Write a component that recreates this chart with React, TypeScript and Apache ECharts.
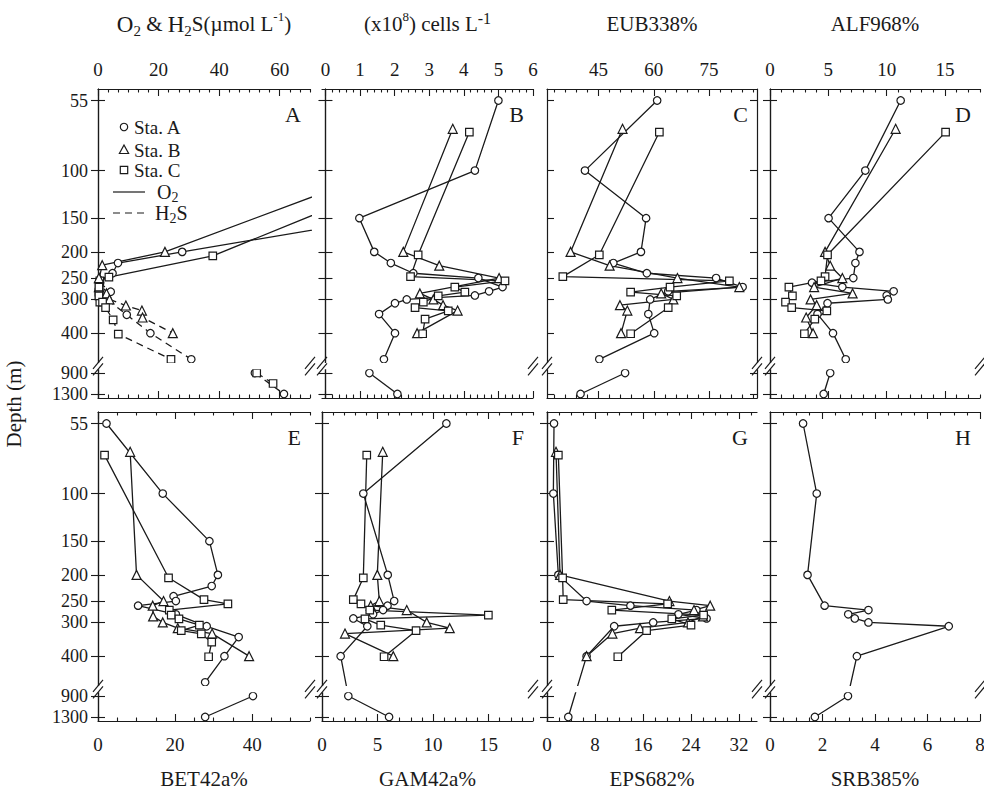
import React, { useEffect, useRef } from "react";
import * as echarts from "echarts";

const FONT = "'Liberation Serif', 'Times New Roman', serif";
const INK = "#1a1a1a";

// ---- depth axis ----
const depthTicks = [55, 100, 150, 200, 250, 300, 400, 900, 1300];

// ---- sampling depths (m) ----
const depthStaA = [55, 100, 150, 200, 220, 240, 250, 260, 270, 280, 290, 300, 310, 340, 400, 500, 900, 1300];
const depthStaB = [70, 200, 225, 250, 260, 270, 285, 300, 315, 330, 350, 400];
const depthStaC = [72, 205, 247, 256, 270, 282, 291, 307, 322, 331, 355, 402];

// ---- Panel A: O2 & H2S (umol/L) ----
const o2DepthA = [150, 200, 220, 240, 255];
const o2StaA = [94, 27.8, 6.6, 4.8, 0.5];
const o2DepthB = [100, 200, 224, 250, 270];
const o2StaB = [94, 22.1, 1.4, 0.4, 0.3];
const o2DepthC = [100, 207, 248, 256, 270, 282, 291, 307];
const o2StaC = [107, 37.9, 3.6, 0.6, 0.4, 0.3, 0.4, 0.6];
const h2sDepthA = [260, 281, 300, 342, 400, 500, 900, 1300];
const h2sStaA = [0.5, 4.2, 3.0, 9.5, 17.3, 30.8, 51.8, 61.4];
const h2sDepthB = [250, 285, 300, 316, 330, 350, 400];
const h2sStaB = [0.3, 2.8, 3.8, 9.2, 14.5, 14.7, 24.7];
const h2sDepthC = [270, 291, 307, 322, 357, 403, 500, 900, 1100];
const h2sStaC = [0.3, 0.3, 1.5, 2.5, 5.0, 6.7, 24.1, 52.4, 57.8];

// ---- Panel B: cells (x10^8 / L) ----
const cellsA = [5.0, 4.32, 0.98, 1.41, 1.89, 2.54, 4.42, null, 5.12, 4.73, 4.32, 2.35, 2.01, 1.55, 2.01, 1.69, 1.27, 2.08];
const cellsB = [3.68, 2.25, 3.29, 5.02, null, null, 2.73, 3.12, 3.40, 3.82, null, 2.65];
const cellsC = [4.16, 2.68, 2.46, 5.19, 3.74, 4.03, 3.26, 2.83, 2.59, 3.55, 2.88, 2.81];
// ---- Panel C: EUB338% ----
const eubA = [60.9, 41.3, 57.9, 56.5, 49.0, 58.1, 76.9, null, 84.1, 63.9, null, 59.0, null, 58.5, 60.1, 45.2, 52.2, 40.1];
const eubB = [51.5, 37.4, 48.0, 66.4, null, 83.2, 62.0, 65.3, 50.8, 52.8, null, 51.1];
const eubC = [61.5, 45.2, 35.3, 80.5, 64.4, 53.7, 66.2, null, 63.9, null, null, 53.7];
// ---- Panel D: ALF968% ----
const alfA = [11.2, 8.17, 5.02, 7.67, 7.32, null, 7.14, 3.6, 6.2, 10.6, 10.0, 10.1, 4.93, 4.07, 5.4, 6.49, 5.16, 4.6];
const alfB = [10.77, 4.72, 5.16, 6.2, null, 3.78, 7.08, 3.48, 4.0, null, 3.1, 3.69];
const alfC = [15.05, 4.93, 4.72, 4.37, 1.62, null, 1.92, 1.33, 1.86, 4.87, 3.84, 2.95];
// ---- Panel E: BET42a% ----
const betA = [2.2, 16.8, 28.9, 31.1, 29.5, 19.6, 20.2, 10.4, null, 20.2, null, null, 28.2, 36.5, 32.8, 27.8, 40.2, 27.8];
const betB = [8.34, 10.0, null, 17.0, 14.2, null, 14.3, 16.8, 20.7, 29.6, null, 39.2];
const betC = [1.7, 18.3, 27.5, 33.7, 18.5, 19.0, 21.0, 26.3, 21.6, 26.8, 29.5, 28.7];
// ---- Panel F: GAM42a% ----
const gamA = [11.2, 3.72, null, 5.92, null, null, 6.5, 5.9, 5.5, 4.6, 2.82, null, 4.08, null, 1.68, null, 2.37, 6.04];
const gamB = [5.47, 4.98, null, 5.16, 4.39, 7.63, null, 9.43, 11.5, 2.07, null, 6.42];
const gamC = [4.03, 3.72, 2.82, 3.51, 4.3, 14.98, 3.87, 5.29, 8.47, null, null, 5.59];
// ---- Panel G: EPS682% ----
const epsA = [1.17, 1.06, null, 1.89, null, null, 6.6, 13.9, 24.9, 21.9, 26.6, 17.7, 11.2, null, 6.6, null, null, 3.55];
const epsB = [1.5, 2.17, null, 20.4, 27.2, 24.5, 26.0, 23.5, 15.5, 10.9, null, 6.6];
const epsC = [1.89, 2.6, 2.7, 20.1, 10.8, 26.1, 20.8, 24.0, 16.6, null, null, 11.8];
// ---- Panel H: SRB385% ----
const srbA = [1.26, 1.78, null, 1.43, null, null, null, 2.08, 3.75, 2.98, 3.23, 3.75, 6.81, null, 3.31, null, 2.97, 1.71];

// ---- x axes ----
const panelLetters = ["A", "B", "C", "D", "E", "F", "G", "H"];
const xMin = [0, -0.1, 31, 0, 0, 0, 0, 0];
const xMax = [70, 6, 88, 18, 55, 19, 35, 8];
const xMajor = [
  [0, 20, 40, 60],
  [0, 1, 2, 3, 4, 5, 6],
  [45, 60, 75],
  [0, 5, 10, 15],
  [0, 20, 40],
  [0, 5, 10, 15],
  [0, 8, 16, 24, 32],
  [0, 2, 4, 6, 8],
];
const xMinorStep = [10 / 3, 0.2, 3, 1, 5, 1, 2, 0.5];
const joinAcrossBreak = [false, false, false, false, false, true, true, true];

const panelValues: (number | null)[][][] = [
  [],
  [cellsA, cellsB, cellsC],
  [eubA, eubB, eubC],
  [alfA, alfB, alfC],
  [betA, betB, betC],
  [gamA, gamB, gamC],
  [epsA, epsB, epsC],
  [srbA],
];

// ---- layout ----
const LEFTS = [98, 322, 547, 770];
const WIDTHS = [212, 211, 210, 210];
const TOPS = [89, 412];
const PH = 309;
const PX_PER_DECADE = 270;

const LOG55 = Math.log10(55);
const U900 = LOG55 + 272.5 / PX_PER_DECADE;
const U1300 = LOG55 + 293.5 / PX_PER_DECADE;
const UMIN = LOG55 - 11.5 / PX_PER_DECADE;
const UMAX = UMIN + PH / PX_PER_DECADE;

function U(d: number) {
  return d <= 600 ? Math.log10(d) : U900 + ((d - 900) / 400) * (U1300 - U900);
}
function yPix(row: number, d: number) {
  return TOPS[row] + (U(d) - UMIN) * PX_PER_DECADE;
}

const STATIONS = [
  { symbol: "circle", size: 7.5 },
  { symbol: "triangle", size: 9 },
  { symbol: "rect", size: 7.5 },
];
const depthsByStation = [depthStaA, depthStaB, depthStaC];

function segments(depths: number[], vals: (number | null)[], join: boolean) {
  const segs: number[][][] = [[]];
  let prev: number | null = null;
  for (let k = 0; k < depths.length; k++) {
    const v = vals[k];
    if (v == null) continue;
    const d = depths[k];
    if (!join && prev !== null && prev < 700 && d > 700) segs.push([]);
    segs[segs.length - 1].push([v, U(d)]);
    prev = d;
  }
  return segs.filter((s) => s.length > 0);
}

function minorTicks(i: number) {
  const step = xMinorStep[i];
  const out: number[] = [];
  const k0 = Math.ceil(xMin[i] / step - 1e-9);
  for (let k = k0; k * step <= xMax[i] + 1e-9; k++) {
    const v = Math.round(k * step * 1000) / 1000;
    if (xMajor[i].some((m) => Math.abs(m - v) < 1e-6)) continue;
    out.push(v);
  }
  return out;
}

function depthLabel(v: number) {
  let best = depthTicks[0];
  let bd = Infinity;
  for (const d of depthTicks) {
    const dd = Math.abs(U(d) - v);
    if (dd < bd) {
      bd = dd;
      best = d;
    }
  }
  return String(best);
}

function lineSeries(data: number[][], xi: number, yi: number, st: number, dashed: boolean) {
  const s = STATIONS[st];
  return {
    type: "line",
    xAxisIndex: xi,
    yAxisIndex: yi,
    data,
    symbol: s.symbol,
    symbolSize: s.size,
    showSymbol: true,
    clip: true,
    silent: true,
    emphasis: { disabled: true },
    itemStyle: { color: "#ffffff", borderColor: INK, borderWidth: 1.2 },
    lineStyle: { color: INK, width: 1.3, type: dashed ? [7, 5] : "solid" },
  };
}

function buildOption() {
  const grid: any[] = [];
  const xAxis: any[] = [];
  const yAxis: any[] = [];
  const series: any[] = [];
  const graphics: any[] = [];
  const axisLine = { show: true, lineStyle: { color: INK, width: 1.2 } };
  const tickLine = { color: INK, width: 1.1 };
  const xLabelStyle = { fontSize: 19, fontFamily: FONT, color: INK };
  const yLabelStyle = { fontSize: 18, lineHeight: 18, fontFamily: FONT, color: INK };
  const yTicks = depthTicks.map(U);

  for (let i = 0; i < 8; i++) {
    const r = Math.floor(i / 4);
    const c = i % 4;
    const L = LEFTS[c];
    const W = WIDTHS[c];
    const T = TOPS[r];
    const g = { left: L, top: T, width: W, height: PH, containLabel: false, outerBoundsMode: "none" };
    grid.push({ ...g }, { ...g });
    const gMain = 2 * i;
    const gMinor = 2 * i + 1;
    const majors = xMajor[i];
    const minors = minorTicks(i);
    const labTop = r === 0;
    const base = { type: "value", min: xMin[i], max: xMax[i], splitLine: { show: false } };
    const mkMajor = (pos: string, lab: boolean) => ({
      ...base,
      gridIndex: gMain,
      position: pos,
      axisLine,
      axisTick: { show: true, inside: true, length: 7, customValues: majors, lineStyle: tickLine },
      axisLabel: {
        show: lab,
        customValues: majors,
        margin: pos === "top" ? 10 : 14,
        formatter: (v: number) => String(v),
        ...xLabelStyle,
      },
    });
    const mkMinor = (pos: string) => ({
      ...base,
      gridIndex: gMinor,
      position: pos,
      axisLine: { show: false },
      axisTick: { show: true, inside: true, length: 3.5, customValues: minors, lineStyle: tickLine },
      axisLabel: { show: false },
    });
    xAxis.push(mkMajor("top", labTop), mkMajor("bottom", !labTop), mkMinor("top"), mkMinor("bottom"));
    const ybase = { type: "value", inverse: true, min: UMIN, max: UMAX, splitLine: { show: false } };
    yAxis.push(
      {
        ...ybase,
        gridIndex: gMain,
        position: "left",
        axisLine,
        axisTick: { show: true, inside: true, length: 7, customValues: yTicks, lineStyle: tickLine },
        axisLabel: { show: c === 0, customValues: yTicks, margin: 10, formatter: depthLabel, ...yLabelStyle },
      },
      {
        ...ybase,
        gridIndex: gMain,
        position: "right",
        axisLine,
        axisTick: { show: true, inside: true, length: 7, customValues: yTicks, lineStyle: tickLine },
        axisLabel: { show: false },
      },
      { ...ybase, gridIndex: gMinor, show: false }
    );
    const xi = 4 * i + (labTop ? 0 : 1);
    const yi = 3 * i;

    if (i === 0) {
      const o2 = [
        [o2DepthA, o2StaA],
        [o2DepthB, o2StaB],
        [o2DepthC, o2StaC],
      ];
      const h2s = [
        [h2sDepthA, h2sStaA],
        [h2sDepthB, h2sStaB],
        [h2sDepthC, h2sStaC],
      ];
      o2.forEach(([d, v], st) => {
        segments(d as number[], v as number[], false).forEach((sg) => series.push(lineSeries(sg, xi, yi, st, false)));
      });
      h2s.forEach(([d, v], st) => {
        segments(d as number[], v as number[], false).forEach((sg) => series.push(lineSeries(sg, xi, yi, st, true)));
      });
    } else {
      panelValues[i].forEach((vals, st) => {
        segments(depthsByStation[st], vals, joinAcrossBreak[i]).forEach((sg) =>
          series.push(lineSeries(sg, xi, yi, st, false))
        );
      });
    }

    // axis break
    const ya = (yPix(r, 500) + yPix(r, 900)) / 2 - 3.2;
    const yb = ya + 6.4;
    graphics.push({
      type: "rect",
      z: 100,
      silent: true,
      shape: { x: L - 2, y: ya, width: W + 4, height: yb - ya },
      style: { fill: "#ffffff" },
    });
    for (const ax of [L, L + W]) {
      for (const yy of [ya, yb]) {
        graphics.push({
          type: "line",
          z: 101,
          silent: true,
          shape: { x1: ax - 5, y1: yy + 6, x2: ax + 5, y2: yy - 6 },
          style: { stroke: INK, lineWidth: 1.2 },
        });
      }
    }
    // panel letter
    graphics.push({
      type: "text",
      z: 101,
      silent: true,
      x: L + W - 9,
      y: T + 25,
      style: { text: panelLetters[i], fontSize: 22, fontFamily: FONT, fill: INK, align: "right", verticalAlign: "middle" },
    });
  }

  // titles
  const rich = {
    t: { fontSize: 21, fontFamily: FONT, color: INK, lineHeight: 28, verticalAlign: "middle" },
    b: { fontSize: 23, fontFamily: FONT, color: INK, lineHeight: 28, verticalAlign: "middle" },
    s: { fontSize: 15, fontFamily: FONT, color: INK, lineHeight: 15, verticalAlign: "bottom" },
    p: { fontSize: 13, fontFamily: FONT, color: INK, lineHeight: 13, verticalAlign: "top" },
    q: { fontSize: 16, fontFamily: FONT, color: INK, lineHeight: 16, verticalAlign: "top" },
    lt: { fontSize: 20, fontFamily: FONT, color: INK, lineHeight: 24, verticalAlign: "middle" },
    ls: { fontSize: 14, fontFamily: FONT, color: INK, lineHeight: 14, verticalAlign: "bottom" },
  };
  const centers = LEFTS.map((l, k) => l + WIDTHS[k] / 2);
  const topTitles = [
    "{b|O}{s|2}{t| & }{b|H}{s|2}{t|S(µmol L}{p|-1}{t|)}",
    "{t|(x10}{p|8}{t|) cells L}{q|-1}",
    "{t|EUB338%}",
    "{t|ALF968%}",
  ];
  const bottomTitles = ["BET42a%", "GAM42a%", "EPS682%", "SRB385%"];
  topTitles.forEach((tt, k) =>
    graphics.push({
      type: "text",
      z: 101,
      silent: true,
      x: centers[k],
      y: 24,
      style: { text: tt, rich, align: "center", verticalAlign: "middle", fontFamily: FONT, fontSize: 21, fill: INK },
    })
  );
  bottomTitles.forEach((tt, k) =>
    graphics.push({
      type: "text",
      z: 101,
      silent: true,
      x: centers[k],
      y: 779,
      style: { text: tt, fontSize: 21, fontFamily: FONT, fill: INK, align: "center", verticalAlign: "middle" },
    })
  );
  graphics.push({
    type: "text",
    z: 101,
    silent: true,
    x: 14,
    y: 404,
    rotation: Math.PI / 2,
    style: { text: "Depth (m)", fontSize: 21, fontFamily: FONT, fill: INK, align: "center", verticalAlign: "middle" },
  });

  // legend in panel A
  const mk = { fill: "#ffffff", stroke: INK, lineWidth: 1.2 };
  const lx = 124;
  const ly = [127, 150, 170, 192, 213];
  graphics.push({ type: "circle", z: 101, silent: true, shape: { cx: lx, cy: ly[0], r: 3.7 }, style: mk });
  graphics.push({
    type: "polygon",
    z: 101,
    silent: true,
    shape: { points: [[lx, ly[1] - 5], [lx + 4.6, ly[1] + 3.5], [lx - 4.6, ly[1] + 3.5]] },
    style: mk,
  });
  graphics.push({ type: "rect", z: 101, silent: true, shape: { x: lx - 3.7, y: ly[2] - 3.7, width: 7.4, height: 7.4 }, style: mk });
  graphics.push({ type: "line", z: 101, silent: true, shape: { x1: 113, y1: ly[3], x2: 145, y2: ly[3] }, style: { stroke: INK, lineWidth: 1.2 } });
  graphics.push({
    type: "line",
    z: 101,
    silent: true,
    shape: { x1: 113, y1: ly[4], x2: 146, y2: ly[4] },
    style: { stroke: INK, lineWidth: 1.2, lineDash: [7, 5] },
  });
  const legTexts = ["Sta. A", "Sta. B", "Sta. C"];
  legTexts.forEach((t, k) =>
    graphics.push({
      type: "text",
      z: 101,
      silent: true,
      x: 134,
      y: ly[k],
      style: { text: t, fontSize: 19, fontFamily: FONT, fill: INK, align: "left", verticalAlign: "middle" },
    })
  );
  graphics.push({
    type: "text",
    z: 101,
    silent: true,
    x: 157,
    y: ly[3],
    style: { text: "{lt|O}{ls|2}", rich, align: "left", verticalAlign: "middle", fontFamily: FONT, fontSize: 20, fill: INK },
  });
  graphics.push({
    type: "text",
    z: 101,
    silent: true,
    x: 155,
    y: ly[4],
    style: { text: "{lt|H}{ls|2}{lt|S}", rich, align: "left", verticalAlign: "middle", fontFamily: FONT, fontSize: 20, fill: INK },
  });

  return {
    animation: false,
    backgroundColor: "#ffffff",
    textStyle: { fontFamily: FONT },
    grid,
    xAxis,
    yAxis,
    series,
    graphic: { elements: graphics },
  };
}

export default function App() {
  const ref = useRef<HTMLDivElement>(null);
  useEffect(() => {
    document.body.style.margin = "0";
    const chart = echarts.init(ref.current!, null, { renderer: "svg" });
    chart.setOption(buildOption() as any);
    return () => chart.dispose();
  }, []);
  return <div ref={ref} style={{ width: 984, height: 794 }} />;
}
